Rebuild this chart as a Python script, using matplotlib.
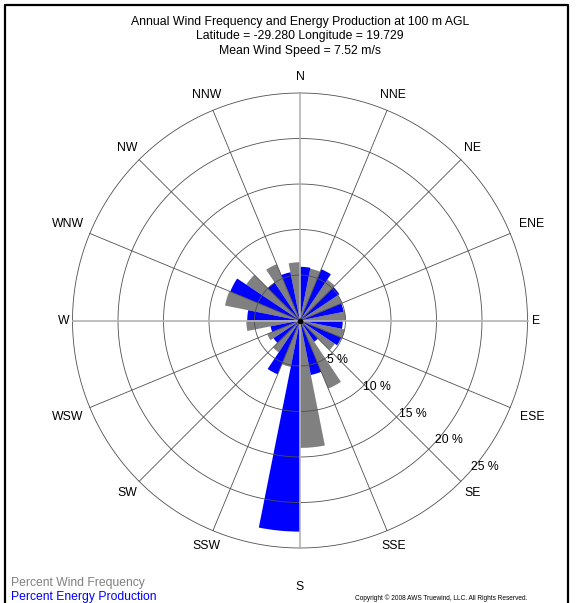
import numpy as np
import matplotlib.pyplot as plt

plt.rcParams['font.family'] = ['Liberation Sans', 'DejaVu Sans']

# 16 compass sectors, percent of the year (grey) and of energy (blue)
directions = ['N', 'NNE', 'NE', 'ENE', 'E', 'ESE', 'SE', 'SSE',
              'S', 'SSW', 'SW', 'WSW', 'W', 'WNW', 'NW', 'NNW']
wind_freq = [6.4, 5.8, 5.4, 5.0, 5.0, 5.0, 4.6, 8.1,
             14.0, 5.2, 4.2, 3.9, 5.9, 8.4, 7.1, 6.7]
energy_prod = [5.9, 6.1, 5.2, 4.9, 4.7, 4.9, 2.8, 6.1,
               23.2, 6.4, 3.5, 3.3, 5.8, 8.3, 5.0, 5.4]
rings = [5, 10, 15, 20, 25]

title_lines = ['Annual Wind Frequency and Energy Production at 100 m AGL',
               'Latitude = -29.280 Longitude = 19.729',
               'Mean Wind Speed = 7.52 m/s']

W, H = 576, 603
cx, cy, R = 300, 320.5, 227.5   # rose centre and outer ring, in pixels
rmax = rings[-1]

fig = plt.figure(figsize=(W / 100, H / 100), dpi=100)
ax = fig.add_axes([(cx - R) / W, (H - cy - R) / H, 2 * R / W, 2 * R / H],
                  projection='polar')
ax.set_theta_zero_location('N')
ax.set_theta_direction(-1)
ax.set_ylim(0, rmax)
ax.grid(False)
ax.set_xticks([])
ax.set_yticks([])
ax.spines['polar'].set_visible(False)
ax.patch.set_alpha(0)

step = 2 * np.pi / len(directions)
half = step / 2
theta = np.arange(len(directions)) * step

# grey half sits counter-clockwise of the direction line, blue half clockwise
ax.bar(theta - half, wind_freq, width=half, align='edge',
       color='#808080', edgecolor='none', zorder=2)
ax.bar(theta, energy_prod, width=half, align='edge',
       color='#0000ff', edgecolor='none', zorder=2)

# rings and spokes on top of the bars
t = np.linspace(0, 2 * np.pi, 400)
for r in rings:
    ax.plot(t, np.full_like(t, r), color='#505050', lw=0.6, zorder=3, clip_on=False)
for i, th in enumerate(theta):
    if i % 4 == 0:
        ax.plot([th, th], [0, rmax], color='#b4b4b4', lw=1.2, zorder=3, clip_on=False)
    else:
        ax.plot([th, th], [0, rmax], color='#505050', lw=0.6, zorder=3, clip_on=False)
ax.plot([0], [0], 'o', color='black', ms=3, zorder=4)

# compass labels, wide ones pushed a little further out
px = rmax / R
for i, (th, name) in enumerate(zip(theta, directions)):
    if name in ('E', 'W'):
        dist = 236
    elif name == 'S':
        dist = 267
    elif i % 8 in (3, 5):
        dist = 251
    else:
        dist = 244
    ax.text(th, dist * px, name, ha='center', va='center', fontsize=8.8,
            clip_on=False)

# ring labels along the south-east spoke
for i, r in enumerate(rings):
    fig.text((327 + 36 * i) / W, 1 - (360 + 26.8 * i) / H, f'{r} %',
             ha='left', va='center', fontsize=8.8)

for i, line in enumerate(title_lines):
    fig.text(cx / W, 1 - (22 + 14.5 * i) / H, line, ha='center', va='center',
             fontsize=8.8)

fig.text(11 / W, 1 - 583 / H, 'Percent Wind Frequency', color='#808080',
         ha='left', va='center', fontsize=8.7)
fig.text(11 / W, 1 - 597 / H, 'Percent Energy Production', color='#0000ff',
         ha='left', va='center', fontsize=8.7)
fig.text(355 / W, 1 - 598 / H,
         'Copyright \u00a9 2008 AWS Truewind, LLC. All Rights Reserved.',
         ha='left', va='center', fontsize=4.7)

# outer frame (left, top, right)
fig.add_artist(plt.Line2D([5 / W, 5 / W, 568 / W, 568 / W],
                          [0, 1 - 5 / H, 1 - 5 / H, 0],
                          color='black', lw=1.6, transform=fig.transFigure))

fig.savefig('out.png', dpi=100, facecolor='white')
